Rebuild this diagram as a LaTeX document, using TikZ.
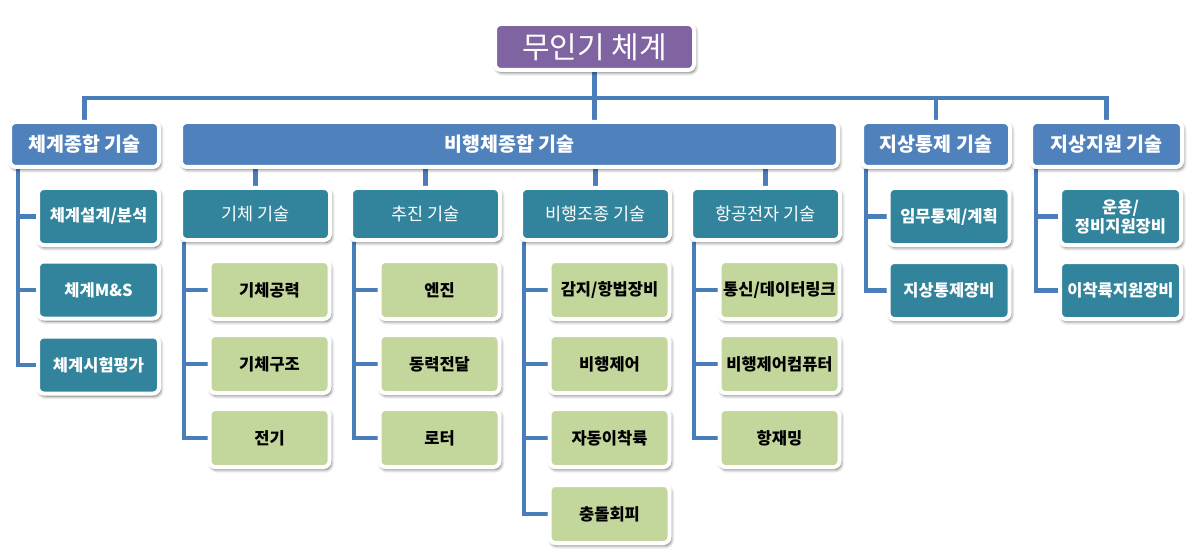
\documentclass[tikz,border=0pt]{standalone}
\usepackage{fontspec}
\setmainfont{Noto Sans CJK KR}
\usetikzlibrary{shadows,shadows.blur,backgrounds}
\definecolor{cpurple}{HTML}{8064A2}
\definecolor{cblue}{HTML}{4F81BD}
\definecolor{cteal}{HTML}{31849B}
\definecolor{cgreen}{HTML}{C3D69B}
\definecolor{cline}{HTML}{4A7EBB}
\tikzset{
  box/.style={draw=white, line width=4pt, rounded corners=6pt, align=center, inner sep=0pt,
    blur shadow={shadow xshift=1.5pt, shadow yshift=-2.5pt, shadow blur radius=3.5pt, shadow blur steps=6, shadow opacity=60}},
  topbox/.style={box, fill=cpurple, text=white, minimum width=199pt, minimum height=46pt, font=\fontsize{30}{32}\selectfont},
  lvlone/.style={box, fill=cblue, text=white, minimum height=45pt, font=\bfseries\fontsize{19.5}{22}\selectfont},
  lvltwo/.style={box, fill=cteal, text=white, minimum width=149pt, minimum height=52pt, font=\fontsize{17.5}{20}\selectfont},
  tealitem/.style={box, fill=cteal, text=white, minimum width=121pt, minimum height=57pt, font=\bfseries\fontsize{16.5}{19}\selectfont},
  greenitem/.style={box, fill=cgreen, text=black, minimum width=120pt, minimum height=58pt, font=\bfseries\fontsize{16.5}{19}\selectfont},
  conn/.style={draw=cline, line width=4.5pt},
}
\begin{document}
\begin{tikzpicture}[x=1pt,y=-1pt]
\useasboundingbox (0,0) rectangle (1191,556);
\coordinate (bus) at (594.5,98);
% nodes
\node[topbox] (top) at (594.5,47) {무인기 체계};
\node[lvlone, minimum width=149pt] (a) at (84.5,144.5) {체계종합 기술};
\node[lvlone, minimum width=657pt] (b) at (509.5,144.5) {비행체종합 기술};
\node[lvlone, minimum width=148pt] (c) at (936,144.5) {지상통제 기술};
\node[lvlone, minimum width=151pt] (d) at (1106.5,144.5) {지상지원 기술};
\node[lvltwo] (b1) at (255.5,214) {기체 기술};
\node[lvltwo] (b2) at (425.5,214) {추진 기술};
\node[lvltwo] (b3) at (595.5,214) {비행조종 기술};
\node[lvltwo] (b4) at (765.5,214) {항공전자 기술};
\node[tealitem] (a1) at (98.5,216.5) {체계설계/분석};
\node[tealitem] (a2) at (98.5,290) {체계M\&S};
\node[tealitem] (a3) at (98.5,365) {체계시험평가};
\node[greenitem] (b11) at (269.5,290) {기체공력};
\node[greenitem] (b12) at (269.5,364) {기체구조};
\node[greenitem] (b13) at (269.5,438) {전기};
\node[greenitem] (b21) at (439.5,290) {엔진};
\node[greenitem] (b22) at (439.5,364) {동력전달};
\node[greenitem] (b23) at (439.5,438) {로터};
\node[greenitem] (b31) at (609.5,290) {감지/항법장비};
\node[greenitem] (b32) at (609.5,364) {비행제어};
\node[greenitem] (b33) at (609.5,438) {자동이착륙};
\node[greenitem] (b34) at (609.5,514) {충돌회피};
\node[greenitem] (b41) at (779.5,290) {통신/데이터링크};
\node[greenitem] (b42) at (779.5,364) {비행제어컴퓨터};
\node[greenitem] (b43) at (779.5,438) {항재밍};
\node[tealitem] (c1) at (949,216.5) {임무통제/계획};
\node[tealitem] (c2) at (949,290.5) {지상통제장비};
\node[tealitem] (d1) at (1120.5,216.5) {운용/\\정비지원장비};
\node[tealitem] (d2) at (1120.5,290.5) {이착륙지원장비};
% connectors
\begin{scope}[on background layer]
\draw[conn] (top.south) -- (bus);
\draw[conn] (bus) -| (a.north);
\draw[conn] (bus) -| (d.north);
\draw[conn] (bus) -| (c.north);
\draw[conn] (bus) -- (bus |- b.north);
\foreach \n in {b1,b2,b3,b4} \draw[conn] (\n.north |- b.south) -- (\n.north);
\foreach \n in {a1,a2,a3} \draw[conn] ([xshift=10pt]a.south west) |- (\n.west);
\foreach \n in {b11,b12,b13} \draw[conn] ([xshift=5pt]b1.south west) |- (\n.west);
\foreach \n in {b21,b22,b23} \draw[conn] ([xshift=5pt]b2.south west) |- (\n.west);
\foreach \n in {b31,b32,b33,b34} \draw[conn] ([xshift=5pt]b3.south west) |- (\n.west);
\foreach \n in {b41,b42,b43} \draw[conn] ([xshift=5pt]b4.south west) |- (\n.west);
\foreach \n in {c1,c2} \draw[conn] ([xshift=6pt]c.south west) |- (\n.west);
\foreach \n in {d1,d2} \draw[conn] ([xshift=7pt]d.south west) |- (\n.west);
\end{scope}
\end{tikzpicture}
\end{document}
